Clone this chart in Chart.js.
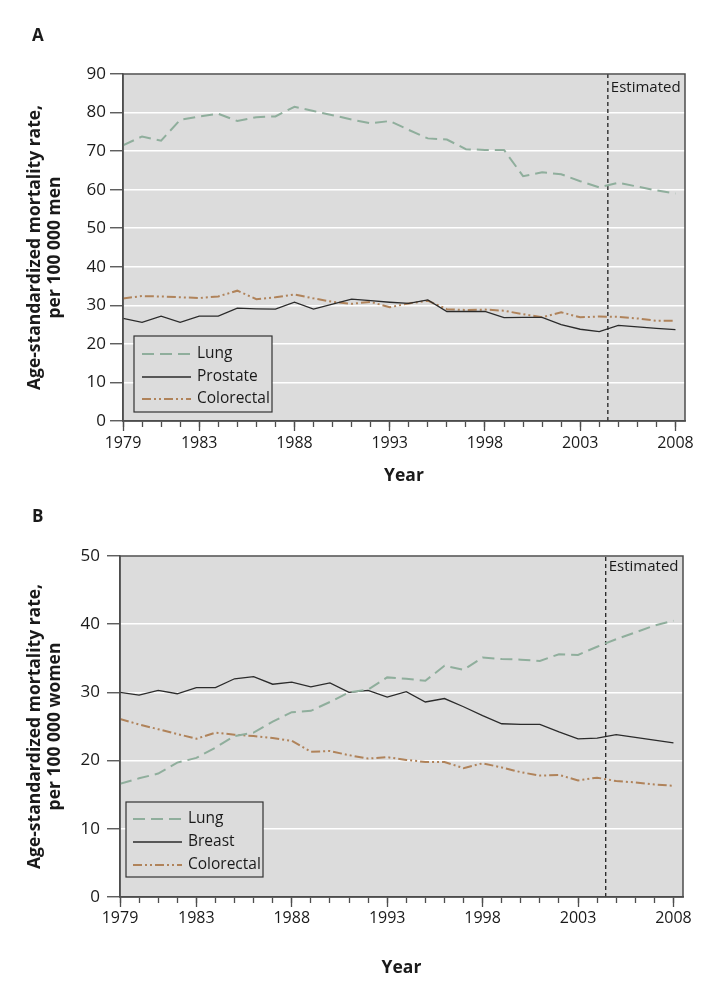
<!DOCTYPE html>
<html><head><meta charset="utf-8">
<script src="https://cdn.jsdelivr.net/npm/chart.js@4.4.1/dist/chart.umd.min.js"></script>
<style>
html,body{margin:0;padding:0;background:#fff;}
#wrap{position:relative;width:721px;height:1005px;overflow:hidden;}
canvas{position:absolute;left:0;}
</style></head><body>
<div id="wrap">
<canvas id="ca" width="721" height="490" style="top:0px"></canvas>
<canvas id="cb" width="721" height="515" style="top:490px"></canvas>
</div>
<script>
const years = [1979,1980,1981,1982,1983,1984,1985,1986,1987,1988,1989,1990,1991,1992,1993,1994,1995,1996,1997,1998,1999,2000,2001,2002,2003,2004,2005,2006,2007,2008];
const labeledYears = [1979,1983,1988,1993,1998,2003,2008];
const estimateYear = 2004.45;
const menTicks = [0,10,20,30,40,50,60,70,80,90];
const womenTicks = [0,10,20,30,40,50];

const menLung = [71.5,73.8,72.7,78.1,79.0,79.7,77.8,78.8,79.0,81.5,80.4,79.3,78.2,77.2,77.8,75.5,73.3,73.0,70.5,70.3,70.3,63.5,64.5,64.0,62.2,60.6,61.8,60.8,59.8,59.0];
const menProstate = [26.6,25.6,27.2,25.6,27.2,27.2,29.3,29.1,29.0,30.8,29.0,30.3,31.6,31.2,30.8,30.5,31.4,28.4,28.4,28.4,26.8,26.9,26.9,25.0,23.8,23.2,24.8,24.4,24.0,23.7];
const menColorectal = [31.8,32.4,32.3,32.1,31.9,32.3,33.8,31.6,32.1,32.8,31.8,30.9,30.4,30.9,29.5,30.5,31.2,29.0,28.8,28.9,28.6,27.7,26.9,28.2,26.9,27.1,27.0,26.6,26.0,26.0];

const womenLung = [16.6,17.4,18.1,19.7,20.4,21.9,23.6,24.1,25.7,27.1,27.3,28.6,30.0,30.4,32.2,32.0,31.7,33.9,33.3,35.1,34.9,34.8,34.6,35.6,35.5,36.7,37.8,38.8,39.8,40.5];
const womenBreast = [30.0,29.6,30.3,29.8,30.7,30.7,32.0,32.3,31.2,31.5,30.8,31.4,30.0,30.3,29.3,30.1,28.6,29.1,27.9,26.6,25.4,25.3,25.3,24.2,23.2,23.3,23.8,23.4,23.0,22.6];
const womenColorectal = [26.1,25.3,24.6,23.9,23.2,24.1,23.8,23.6,23.3,22.9,21.3,21.4,20.8,20.3,20.5,20.1,19.8,19.8,18.9,19.6,19.0,18.3,17.8,17.9,17.1,17.5,17.0,16.8,16.5,16.3];

const FONT = '"Open Sans"';
const AXIS = '#4d4d4d';
const TEXT = '#1a1a1a';
const LUNG_STYLE = {color:'#8fae9c', width:2, dash:[12,6]};
const SOLID_STYLE = {color:'#2b2b2b', width:1.3, dash:[]};
const CRC_STYLE = {color:'#b0835a', width:2, dash:[9,3,2,3,2,3]};

const panelPlugin = {
  id: 'panel',
  beforeDraw(chart) {
    const {ctx, chartArea: a} = chart;
    ctx.save();
    ctx.fillStyle = '#dcdcdc';
    ctx.fillRect(a.left, a.top, a.right - a.left, a.bottom - a.top);
    ctx.restore();
  },
  afterDraw(chart, args, opts) {
    const {ctx, chartArea: a} = chart;
    ctx.save();
    ctx.strokeStyle = AXIS; ctx.lineWidth = 1.5; ctx.setLineDash([]);
    ctx.strokeRect(a.left, a.top, a.right - a.left, a.bottom - a.top);
    ctx.fillStyle = TEXT;
    ctx.font = 'bold 17px ' + FONT;
    ctx.textAlign = 'left'; ctx.textBaseline = 'alphabetic';
    ctx.fillText(opts.letter, opts.letterX, opts.letterY);
    const xe = chart.scales.x.getPixelForValue(estimateYear);
    ctx.font = '15px ' + FONT;
    ctx.textBaseline = 'middle';
    ctx.fillText('Estimated', xe + 3, a.top + opts.estDy);
    const L = opts.legend;
    const bx = a.left + L.dx, by = a.bottom - L.dyTop;
    ctx.fillStyle = '#dcdcdc';
    ctx.fillRect(bx, by, L.w, L.h);
    ctx.strokeStyle = '#333'; ctx.lineWidth = 1.2;
    ctx.strokeRect(bx, by, L.w, L.h);
    let row = 0;
    chart.data.datasets.forEach(ds => {
      if (ds.inLegend === false) return;
      const yy = by + L.rows[row++];
      ctx.save();
      ctx.strokeStyle = ds.borderColor; ctx.lineWidth = ds.borderWidth;
      ctx.setLineDash(ds.borderDash || []);
      ctx.beginPath(); ctx.moveTo(bx + L.s0, yy); ctx.lineTo(bx + L.s1, yy); ctx.stroke();
      ctx.restore();
      ctx.fillStyle = TEXT; ctx.font = '15.5px ' + FONT; ctx.textBaseline = 'middle';
      ctx.fillText(ds.label, bx + L.tx, yy);
    });
    ctx.restore();
  }
};

function series(label, values, st) {
  return { label, data: values.map((v, i) => ({x: years[i], y: v})), borderColor: st.color, borderWidth: st.width, borderDash: st.dash, pointRadius: 0, tension: 0, fill: false };
}

function makeChart(id, cfg) {
  return new Chart(document.getElementById(id), {
    type: 'line',
    data: { datasets: cfg.datasets.concat([{
      label: '', inLegend: false, data: [{x: estimateYear, y: 0}, {x: estimateYear, y: cfg.yMax}],
      borderColor: '#222', borderWidth: 1.3, borderDash: [4, 3], pointRadius: 0
    }]) },
    options: {
      responsive: false, animation: false, devicePixelRatio: 1,
      layout: { padding: cfg.padding },
      plugins: { legend: {display: false}, tooltip: {enabled: false}, panel: cfg.panel },
      scales: {
        x: {
          type: 'linear', min: 1979, max: 2008.5,
          afterBuildTicks: s => { s.ticks = years.map(v => ({value: v})); },
          afterFit: s => { s.height = cfg.xHeight; },
          grid: { drawOnChartArea: false, drawTicks: true, tickLength: 6, tickColor: AXIS, tickWidth: 1.3, color: AXIS },
          border: { display: true, color: AXIS, width: 1.5 },
          ticks: { autoSkip: false, maxRotation: 0, padding: cfg.xTickPad, color: TEXT,
                   font: {family: FONT, size: 16, lineHeight: 1.2},
                   callback: v => labeledYears.includes(v) ? String(v) : '' },
          title: { display: true, text: 'Year', color: TEXT, font: {family: FONT, size: 17.5, weight: 'bold', lineHeight: 1.2}, padding: {top: 0, bottom: cfg.xTitlePad} }
        },
        x2: {
          type: 'linear', axis: 'x', position: {y: 0}, min: 1979, max: 2008.5,
          afterBuildTicks: s => { s.ticks = labeledYears.map(v => ({value: v})); },
          afterFit: s => { s.height = 0; },
          grid: { drawOnChartArea: false, drawTicks: true, tickLength: 10, tickColor: AXIS, tickWidth: 1.3 },
          border: { display: false },
          ticks: { display: false }
        },
        y: {
          type: 'linear', min: 0, max: cfg.yMax,
          afterBuildTicks: s => { s.ticks = cfg.yTicks.map(v => ({value: v})); },
          afterFit: s => { s.width = cfg.yWidth; },
          grid: { color: '#ffffff', lineWidth: 1.5, tickColor: AXIS, tickWidth: 1.3, tickLength: 13, drawTicks: true },
          border: { display: true, color: AXIS, width: 1.5 },
          ticks: { padding: cfg.yTickPad, color: TEXT, font: {family: FONT, size: 17, lineHeight: 1.2}, callback: v => String(v) },
          title: { display: true, text: cfg.yTitle, color: TEXT, font: {family: FONT, size: 17.5, weight: 'bold', lineHeight: 1.15}, padding: {top: 25, bottom: 0} }
        }
      }
    },
    plugins: [panelPlugin]
  });
}

makeChart('ca', {
  datasets: [series('Lung', menLung, LUNG_STYLE), series('Prostate', menProstate, SOLID_STYLE), series('Colorectal', menColorectal, CRC_STYLE)],
  yMax: 90, yTicks: menTicks, yWidth: 123, xHeight: 69,
  padding: {top: 74, right: 36, left: 0, bottom: 0},
  xTickPad: 7, xTitlePad: 3, yTickPad: 4,
  yTitle: ['Age-standardized mortality rate,', 'per 100 000 men'],
  panel: { letter: 'A', letterX: 32, letterY: 41, estDy: 14,
    legend: {dx: 11, dyTop: 85, w: 138, h: 76, rows: [18, 41, 63], s0: 8, s1: 57, tx: 63} }
});

makeChart('cb', {
  datasets: [series('Lung', womenLung, LUNG_STYLE), series('Breast', womenBreast, SOLID_STYLE), series('Colorectal', womenColorectal, CRC_STYLE)],
  yMax: 50, yTicks: womenTicks, yWidth: 120, xHeight: 108,
  padding: {top: 66, right: 38, left: 0, bottom: 0},
  xTickPad: 6, xTitlePad: 26, yTickPad: 7,
  yTitle: ['Age-standardized mortality rate,', 'per 100 000 women'],
  panel: { letter: 'B', letterX: 32, letterY: 32, estDy: 11,
    legend: {dx: 6, dyTop: 95, w: 137, h: 75, rows: [17, 40, 63], s0: 7, s1: 56, tx: 62} }
});
</script>
</body></html>
